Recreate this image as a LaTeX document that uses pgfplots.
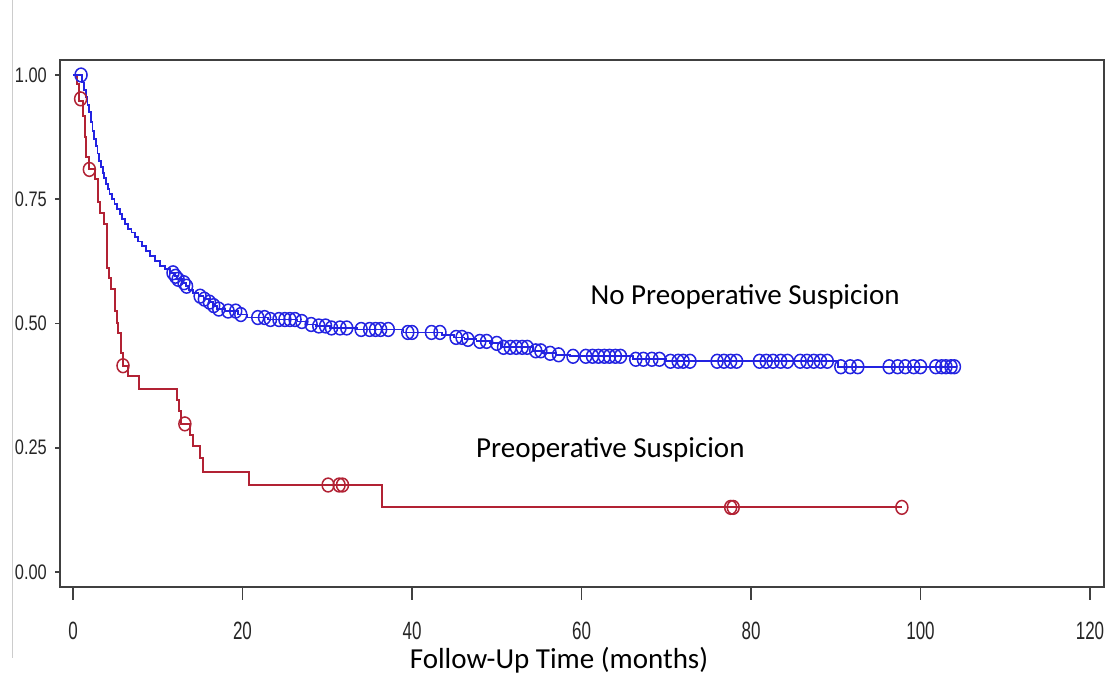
\documentclass[border=0pt]{standalone}
\usepackage{fontspec}
\setmainfont{Carlito}
\newfontfamily\ytickfont{Liberation Sans}[FakeStretch=0.78]
\newfontfamily\xtickfont{Liberation Sans}[FakeStretch=0.68]
\usepackage{pgfplots}
\pgfplotsset{compat=1.18}
\definecolor{kmblue}{RGB}{35,35,225}
\definecolor{kmred}{RGB}{178,34,52}
\definecolor{axcol}{RGB}{64,64,64}

% step points: time, survival
\pgfplotstableread{
t s
0 1.0
0.5 0.982
0.75 0.948
1.14 0.918
1.41 0.875
1.53 0.835
1.93 0.81
2.6 0.79
3.0 0.745
3.2 0.723
3.6 0.70
4.0 0.612
4.25 0.592
4.48 0.569
4.96 0.525
5.15 0.501
5.35 0.48
5.7 0.441
5.85 0.415
6.5 0.395
7.8 0.368
12.25 0.347
12.45 0.323
12.8 0.298
13.8 0.276
14.2 0.253
15.0 0.229
15.3 0.202
20.8 0.175
36.5 0.13
97.8 0.13
}\redcurve

\pgfplotstableread{
t s
0.9 0.952
1.93 0.81
5.9 0.415
13.2 0.298
30.1 0.175
31.4 0.175
31.8 0.175
77.6 0.13
77.9 0.13
97.8 0.13
}\redcens

\pgfplotstableread{
t s
0 1.0
1.1 0.985
1.3 0.97
1.5 0.955
1.7 0.94
1.9 0.925
2.1 0.905
2.3 0.888
2.5 0.872
2.7 0.857
2.9 0.842
3.1 0.827
3.3 0.815
3.5 0.803
3.7 0.792
3.9 0.78
4.1 0.77
4.3 0.76
4.6 0.75
4.9 0.74
5.2 0.73
5.5 0.72
5.8 0.71
6.1 0.70
6.5 0.69
6.9 0.683
7.3 0.674
7.7 0.665
8.1 0.656
8.6 0.646
9.1 0.636
9.7 0.626
10.3 0.616
10.9 0.609
11.4 0.602
12.0 0.595
12.3 0.589
12.9 0.582
13.3 0.575
13.7 0.568
14.2 0.561
14.8 0.555
15.4 0.549
16.0 0.543
16.5 0.536
17.0 0.529
18.0 0.525
19.5 0.518
20.5 0.512
23.0 0.508
26.5 0.504
27.5 0.498
28.7 0.495
30.3 0.491
33.5 0.488
39.0 0.482
43.5 0.477
45.0 0.472
46.2 0.468
47.6 0.464
49.2 0.460
50.5 0.452
54.3 0.445
55.5 0.440
57.0 0.437
58.6 0.434
66.1 0.428
70.0 0.424
90.3 0.413
104.3 0.413
}\bluecurve

\pgfplotstableread{
t s
0.95 1.0
11.8 0.602
12.1 0.595
12.4 0.589
13.1 0.582
13.4 0.575
15.0 0.555
15.5 0.549
16.1 0.543
16.6 0.536
17.2 0.529
18.3 0.525
19.2 0.525
19.8 0.518
21.8 0.512
22.6 0.512
23.3 0.508
24.3 0.508
25.0 0.508
25.6 0.508
26.2 0.508
27.0 0.504
28.1 0.498
29.0 0.495
29.8 0.495
30.5 0.491
31.5 0.491
32.3 0.491
34.0 0.488
35.0 0.488
35.7 0.488
36.3 0.488
37.2 0.488
39.5 0.482
40.0 0.482
42.3 0.482
43.3 0.482
45.2 0.472
45.9 0.472
46.6 0.468
48.0 0.464
48.8 0.464
50.0 0.460
50.8 0.452
51.6 0.452
52.3 0.452
53.0 0.452
53.6 0.452
54.6 0.445
55.2 0.445
56.3 0.440
57.3 0.437
59.0 0.434
60.5 0.434
61.3 0.434
62.0 0.434
62.7 0.434
63.3 0.434
64.0 0.434
64.6 0.434
66.4 0.428
67.3 0.428
68.3 0.428
69.2 0.428
70.5 0.424
71.4 0.424
72.0 0.424
72.8 0.424
76.0 0.424
76.8 0.424
77.6 0.424
78.3 0.424
81.0 0.424
81.8 0.424
82.6 0.424
83.5 0.424
84.3 0.424
85.8 0.424
86.6 0.424
87.4 0.424
88.2 0.424
89.0 0.424
90.6 0.413
91.7 0.413
92.6 0.413
96.3 0.413
97.3 0.413
98.2 0.413
99.2 0.413
100.0 0.413
101.8 0.413
102.5 0.413
103.0 0.413
103.6 0.413
104.0 0.413
}\bluecens

\begin{document}
\begin{tikzpicture}
\useasboundingbox (0,0) rectangle (1113bp,677bp);
\fill[white] (0,0) rectangle (1113bp,677bp);
\draw[black!20, line width=1.2bp] (12.5bp,677bp) -- (12.5bp,19bp);
\begin{axis}[
  at={(60bp,90bp)}, anchor=south west,
  scale only axis,
  width=1044bp, height=527bp,
  xmin=-1.534, xmax=121.65,
  ymin=-0.0302, ymax=1.0302,
  xtick={0,20,...,120},
  ytick={0,0.25,0.5,0.75,1},
  yticklabels={0.00,0.25,0.50,0.75,1.00},
  major tick length=0pt,
  axis line style={axcol, line width=1.8bp},
  /pgf/number format/assume math mode=true,
  yticklabel style={anchor=east, inner sep=0pt, xshift=-13bp,
    font=\ytickfont\fontsize{21bp}{21bp}\selectfont, text=black!85},
  xticklabel style={anchor=north, inner sep=0pt, yshift=-35bp,
    font=\xtickfont\fontsize{25bp}{25bp}\selectfont, text=black!85},
  xlabel={Follow-Up Time (months)},
  xlabel style={at={(rel axis cs:0.478,-0.1556)}, anchor=base,
    inner sep=0pt, font=\fontsize{29bp}{29bp}\selectfont},
  clip=false,
]
\pgfplotsinvokeforeach{0,0.25,0.5,0.75,1}{
  \draw[axcol, line width=1.8bp] (axis cs:-1.534,#1) -- ([xshift=-5bp]axis cs:-1.534,#1);
}
\pgfplotsinvokeforeach{0,20,40,60,80,100,120}{
  \draw[axcol, line width=1.8bp] ([yshift=-1bp]axis cs:#1,-0.0302) -- ([yshift=-13bp]axis cs:#1,-0.0302);
}
\addplot[const plot, kmred, line width=2bp] table[x=t,y=s] {\redcurve};
\addplot[const plot, kmblue, line width=1.8bp] table[x=t,y=s] {\bluecurve};
\addplot[only marks, mark=o, mark size=6bp, kmred,
  mark options={line width=1.5bp, yscale=1.15}] table[x=t,y=s] {\redcens};
\addplot[only marks, mark=o, mark size=6bp, kmblue,
  mark options={line width=1.5bp, yscale=1.15}] table[x=t,y=s] {\bluecens};
\node[anchor=base, inner sep=0pt, font=\fontsize{29bp}{29bp}\selectfont]
  at (axis cs:79.3,0.538) {No Preoperative Suspicion};
\node[anchor=base, inner sep=0pt, font=\fontsize{29bp}{29bp}\selectfont]
  at (axis cs:63.4,0.231) {Preoperative Suspicion};
\end{axis}
\end{tikzpicture}
\end{document}
